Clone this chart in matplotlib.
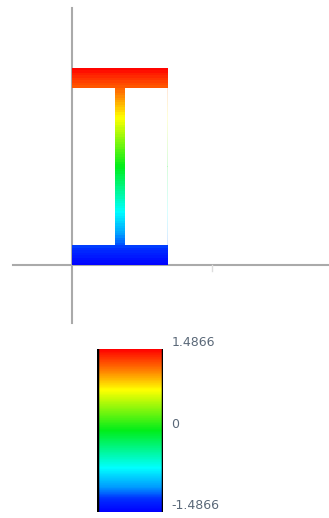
import numpy as np
import matplotlib
matplotlib.use("Agg")
import matplotlib.pyplot as plt
from matplotlib.colors import LinearSegmentedColormap, Normalize

# I-section geometry (units) and stress range
section_b = 100      # flange width
section_h = 200      # total height
flange_t = 20        # flange thickness
web_t = 11           # web thickness
stress_max = 1.4866
cbar_ticks = [-1.4866, 0, 1.4866]
cbar_labels = ["-1.4866", "0", "1.4866"]
n_strips = 80

cmap = LinearSegmentedColormap.from_list(
    "stress",
    [(0.0, (0.0, 0.0, 1.0)), (0.08, (0.0, 0.18, 1.0)), (0.15, (0.0, 0.6, 1.0)),
     (0.27, (0.0, 1.0, 1.0)), (0.5, (0.0, 0.93, 0.1)), (0.75, (1.0, 1.0, 0.0)),
     (0.88, (1.0, 0.45, 0.0)), (1.0, (1.0, 0.0, 0.0))])
norm = Normalize(-stress_max, stress_max)

W, H = 329, 518
fig = plt.figure(figsize=(W / 100, H / 100), dpi=100)

# main axes: pixel box x 0..329, y 0..330, origin at pixel (72, 265)
sx = 96 / section_b
sy = 197 / section_h
ax = fig.add_axes([0, (H - 330) / H, 1, 330 / H])
ax.set_xlim(-72 / sx, (W - 72) / sx)
ax.set_ylim(-(330 - 265) / sy, 265 / sy)
ax.axis("off")

axis_col = "#aaaaaa"
ax.plot([(13 - 72) / sx, (W - 72) / sx], [0, 0], color=axis_col, lw=1.5, zorder=1)
ax.plot([0, 0], [(265 - 323) / sy, (265 - 8) / sy], color=axis_col, lw=1.5, zorder=1)
ax.plot([146, 146], [0, -6 / sy], color="#dddddd", lw=1, zorder=1)

dy = section_h / n_strips
for i in range(n_strips):
    yc = (i + 0.5) * dy
    stress = stress_max * (yc - section_h / 2) / (section_h / 2)
    col = cmap(norm(stress))
    if yc < flange_t or yc > section_h - flange_t:
        ax.barh(yc, section_b, left=0, height=dy, color=col, lw=0, zorder=2)
    else:
        ax.barh(yc, web_t, left=(section_b - web_t) / 2, height=dy,
                color=col, lw=0, zorder=2)
        ax.barh(yc, 0.8, left=section_b - 0.8, height=dy, color=col,
                alpha=0.15, lw=0, zorder=2)

# colorbar
cax = fig.add_axes([97 / W, (H - 512) / H, 66 / W, 163 / H])
sm = plt.cm.ScalarMappable(norm=norm, cmap=cmap)
cb = fig.colorbar(sm, cax=cax, ticks=cbar_ticks)
cb.outline.set_visible(False)
cax.axvline(0, color="black", lw=2.5)
cax.axvline(1, color="black", lw=2.5)
cb.ax.set_yticklabels(cbar_labels)
cax.tick_params(length=0, pad=6, labelsize=9, labelcolor="#5a6878")
for lab in cax.get_yticklabels():
    lab.set_verticalalignment("bottom")
cax.get_yticklabels()[-1].set_y(stress_max * 1.02)

fig.savefig("out.png", dpi=100)
